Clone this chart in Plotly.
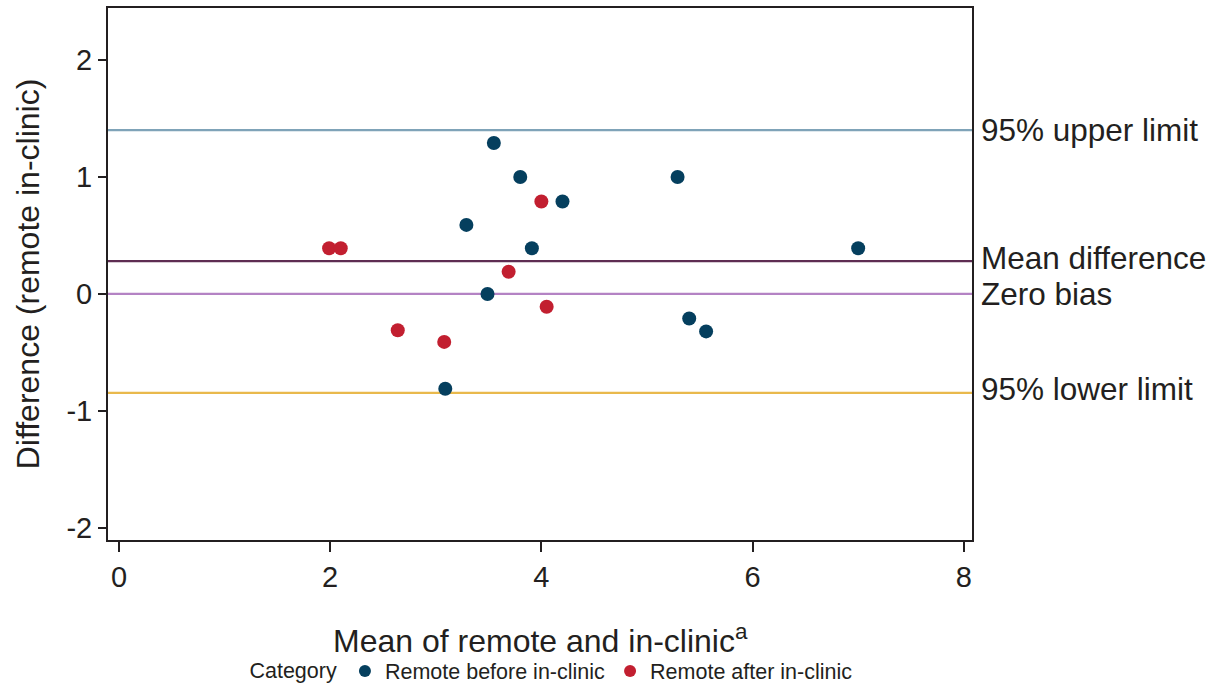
import plotly.graph_objects as go

# Data
before_x = [3.55, 3.80, 4.20, 3.29, 3.91, 3.49, 3.09, 5.29, 7.00, 5.40, 5.56]
before_y = [1.29, 1.00, 0.79, 0.59, 0.39, 0.00, -0.81, 1.00, 0.39, -0.21, -0.32]
after_x = [4.00, 1.99, 2.10, 3.69, 4.05, 2.64, 3.08]
after_y = [0.79, 0.39, 0.39, 0.19, -0.11, -0.31, -0.41]

line_labels = ["95% upper limit", "Mean difference", "Zero bias", "95% lower limit"]
line_values = [1.40, 0.28, 0.0, -0.846]
line_colors = ["#7fa3b8", "#5e2d52", "#b483c4", "#e9b94c"]

x_ticks = [0, 2, 4, 6, 8]
x_tick_text = ["0", "2", "4", "6", "8"]
y_ticks = [-2, -1, 0, 1, 2]
y_tick_text = ["-2", "-1", "0", "1", "2"]

x_title = "Mean of remote and in-clinic<sup>a</sup>"
y_title = "Difference (remote in-clinic)"

FONT = "Liberation Sans, Arial, sans-serif"
TXT = "#231f20"

# label vertical nudges (style only)
label_shift = [0, 3, 0, 4]

fig = go.Figure()

for lab, val, col, sh in zip(line_labels, line_values, line_colors, label_shift):
    fig.add_shape(type="line", xref="paper", x0=0, x1=1, yref="y", y0=val, y1=val,
                  line=dict(color=col, width=2.2), layer="below")
    fig.add_annotation(xref="paper", x=1, xanchor="left", xshift=7, yref="y", y=val,
                       yanchor="middle", yshift=sh, text=lab, showarrow=False,
                       font=dict(family=FONT, size=31.5, color=TXT))

# x-axis title as annotation for precise placement
fig.add_annotation(xref="paper", x=0.5, xanchor="center", yref="paper", y=-0.186,
                   yanchor="middle", text=x_title, showarrow=False,
                   font=dict(family=FONT, size=32, color=TXT))

fig.add_trace(go.Scatter(x=before_x, y=before_y, mode="markers", name="Remote before in-clinic",
                         marker=dict(color="#053f5e", size=14)))
fig.add_trace(go.Scatter(x=after_x, y=after_y, mode="markers", name="Remote after in-clinic",
                         marker=dict(color="#c21f30", size=14)))

axis_common = dict(showline=True, mirror=True, linecolor=TXT, linewidth=2,
                   ticks="outside", tickwidth=2, tickcolor=TXT,
                   showgrid=False, zeroline=False, automargin=False,
                   tickfont=dict(family=FONT, size=29, color=TXT))

fig.update_xaxes(range=[-0.104, 8.078], tickvals=x_ticks, ticktext=x_tick_text, ticklen=10,
                 **axis_common)
fig.update_yaxes(range=[-2.103, 2.444], tickvals=y_ticks, ticktext=y_tick_text, ticklen=8,
                 title=dict(text=y_title,
                            font=dict(family=FONT, size=32, color=TXT), standoff=17),
                 **axis_common)

fig.update_layout(
    width=1228, height=686,
    margin=dict(l=108, r=256, t=8, b=146),
    plot_bgcolor="white", paper_bgcolor="white",
    font=dict(family=FONT, color=TXT),
    legend=dict(orientation="h", xref="container", yref="container",
                x=0.2015, y=0.022, xanchor="left", yanchor="middle",
                title=dict(text="Category", font=dict(family=FONT, size=21.5, color=TXT)),
                font=dict(family=FONT, size=21.5, color=TXT),
                itemsizing="constant", tracegroupgap=0),
    showlegend=True,
)

fig.write_html("out.html")
